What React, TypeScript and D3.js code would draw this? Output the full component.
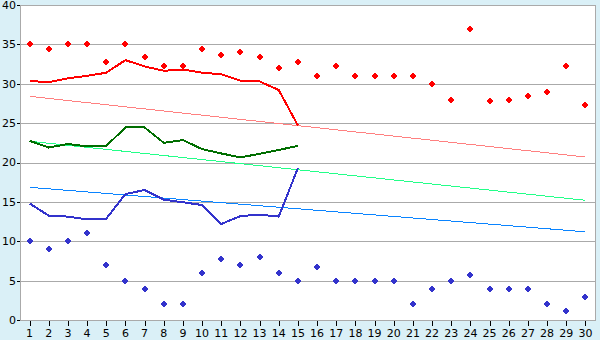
import React from "react";
import * as d3 from "d3";

const days = ["1","2","3","4","5","6","7","8","9","10","11","12","13","14","15","16","17","18","19","20","21","22","23","24","25","26","27","28","29","30"];
const yTicks = [0, 5, 10, 15, 20, 25, 30, 35, 40];

const maxPoints = [35, 34.4, 35, 35, 32.8, 35, 33.4, 32.2, 32.2, 34.4, 33.7, 34.0, 33.4, 32.0, 32.8, 31.0, 32.2, 31.0, 31.0, 31.0, 31.0, 30.0, 28.0, 37.0, 27.8, 28.0, 28.4, 28.9, 32.2, 27.3];
const minPoints = [10, 9, 10, 11, 7, 5, 4, 2, 2, 6, 7.8, 7, 8, 6, 5, 6.7, 5, 5, 5, 5, 2, 4, 5, 5.7, 4, 4, 4, 2, 1.1, 2.9];
const maxLine = [30.35, 30.2, 30.7, 31.0, 31.4, 33.0, 32.2, 31.65, 31.8, 31.4, 31.2, 30.4, 30.3, 29.2, 24.7];
const meanLine = [22.75, 21.9, 22.35, 22.05, 22.1, 24.45, 24.45, 22.5, 22.85, 21.7, 21.15, 20.65, 21.1, 21.6, 22.1];
const minLine = [14.8, 13.25, 13.13, 12.78, 12.87, 16.0, 16.5, 15.28, 14.95, 14.6, 12.19, 13.2, 13.37, 13.13, 19.3];
const trendDays = ["1", "30"];
const maxTrend = [28.4, 20.7];
const meanTrend = [22.7, 15.2];
const minTrend = [16.85, 11.2];

const W = 600, H = 340;
const L = 20, R = 595, T = 5, B = 320;

function plusMarker(): string {
  const p = d3.path();
  const a = 3, b = 1.1, c = 2;
  p.moveTo(-b, -a);
  p.lineTo(b, -a);
  p.lineTo(b, -b);
  p.lineTo(a, -b);
  p.lineTo(a, b);
  p.lineTo(b, b);
  p.lineTo(b, a);
  p.lineTo(-b, a);
  p.lineTo(-b, b);
  p.lineTo(-a, b);
  p.lineTo(-a, -b);
  p.lineTo(-b, -b);
  p.closePath();
  p.rect(-c, -c, 2 * c, 2 * c);
  return p.toString();
}

export default function App() {
  const x = d3.scaleBand<string>().domain(days).range([L, R]);
  const cx = (d: string) => (x(d) as number) + x.bandwidth() / 2;
  const y = d3.scaleLinear().domain([0, 40]).range([B, T]);

  const line = (vals: number[], cats: string[]) =>
    d3.line<number>().x((_, i) => cx(cats[i])).y((v) => y(v))(vals) as string;

  const marker = plusMarker();
  const font = "'DejaVu Sans', Verdana, sans-serif";
  const grid = "#aaaaaa";

  return (
    <div style={{ position: "fixed", left: 0, top: 0 }}>
      <svg width={W} height={H} style={{ display: "block" }}>
        <rect x={0} y={0} width={W} height={H} fill="#daf0f7" />
        <rect x={L} y={T} width={R - L} height={B - T} fill="#ffffff" />
        <g shapeRendering="crispEdges">
          {yTicks.map((t) => (
            <line key={"g" + t} x1={L} x2={R} y1={Math.round(y(t)) + 0.5} y2={Math.round(y(t)) + 0.5} stroke={grid} strokeWidth={1} />
          ))}
          <line x1={L + 0.5} x2={L + 0.5} y1={T} y2={B + 1} stroke={grid} />
          <line x1={R + 0.5} x2={R + 0.5} y1={T} y2={B + 1} stroke={grid} />
          {yTicks.map((t) => (
            <line key={"yt" + t} x1={17} x2={L} y1={Math.round(y(t)) + 0.5} y2={Math.round(y(t)) + 0.5} stroke="#000" />
          ))}
          {days.map((d) => (
            <line key={"xt" + d} x1={Math.round(cx(d)) + 0.5} x2={Math.round(cx(d)) + 0.5} y1={B + 1} y2={B + 6} stroke="#000" />
          ))}
        </g>
        {yTicks.map((t) => (
          <text key={"yl" + t} x={16} y={y(t)} dy="0.36em" textAnchor="end" fontFamily={font} fontSize={11} fill="#000">
            {t}
          </text>
        ))}
        {days.map((d) => (
          <text key={"xl" + d} x={cx(d)} y={337} textAnchor="middle" fontFamily={font} fontSize={11} fill="#000">
            {d}
          </text>
        ))}
        <g fill="none" shapeRendering="crispEdges">
          <path d={line(maxTrend, trendDays)} stroke="#ff8080" strokeWidth={1} />
          <path d={line(meanTrend, trendDays)} stroke="#22ff88" strokeWidth={1} />
          <path d={line(minTrend, trendDays)} stroke="#0a84ff" strokeWidth={1} />
          <path d={line(maxLine, days)} stroke="#ff0000" strokeWidth={2} />
          <path d={line(meanLine, days)} stroke="#006e00" strokeWidth={2} />
          <path d={line(minLine, days)} stroke="#3333cc" strokeWidth={2} />
        </g>
        <g shapeRendering="crispEdges">
          {maxPoints.map((v, i) => (
            <path key={"mx" + i} d={marker} transform={`translate(${Math.round(cx(days[i]))},${Math.round(y(v))})`} fill="#ff0000" />
          ))}
          {minPoints.map((v, i) => (
            <path key={"mn" + i} d={marker} transform={`translate(${Math.round(cx(days[i]))},${Math.round(y(v))})`} fill="#3333cc" />
          ))}
        </g>
      </svg>
    </div>
  );
}
